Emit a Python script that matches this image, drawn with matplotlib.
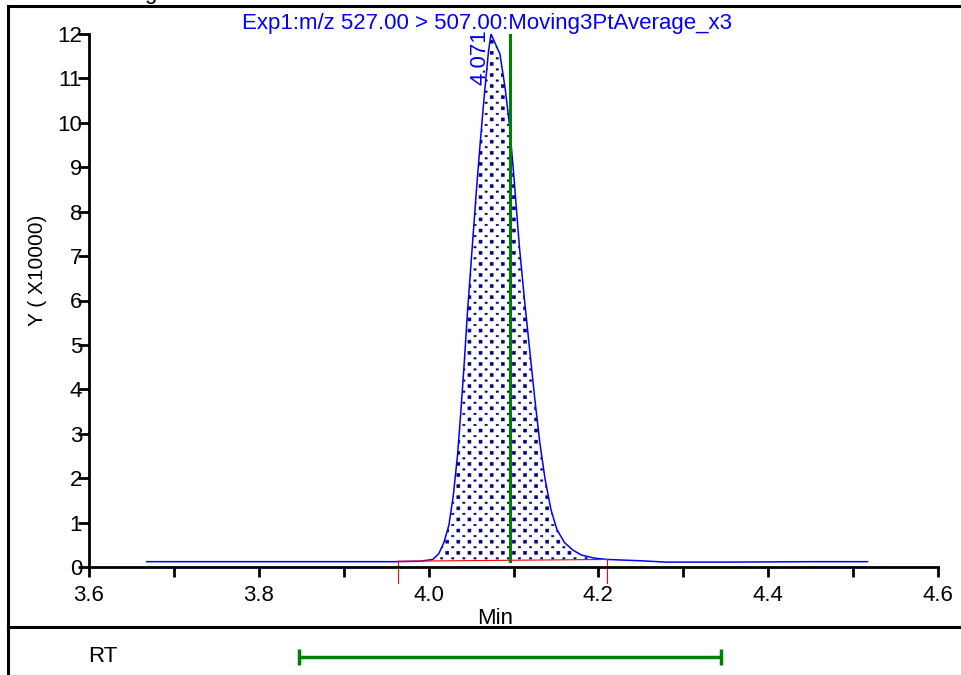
import matplotlib
matplotlib.use("Agg")
import matplotlib.pyplot as plt
import matplotlib.hatch as mhatch
from matplotlib.lines import Line2D
from matplotlib.path import Path
import numpy as np

czas = [3.668, 3.80, 3.90, 3.96, 3.99, 4.005, 4.012, 4.018, 4.024, 4.029,
        4.034, 4.038, 4.042, 4.046, 4.051, 4.056, 4.061, 4.066, 4.0705, 4.0735,
        4.084, 4.090, 4.095, 4.100, 4.107, 4.113, 4.119, 4.125, 4.131, 4.137,
        4.144, 4.151, 4.160, 4.170, 4.180, 4.195, 4.21, 4.25, 4.28, 4.35,
        4.45, 4.517]
sygnal = [0.12, 0.12, 0.12, 0.12, 0.13, 0.17, 0.30, 0.55, 0.95, 1.6,
          2.5, 3.5, 4.6, 5.8, 7.1, 8.4, 9.6, 10.7, 11.6, 12.0,
          11.55, 10.8, 10.0, 8.9, 7.2, 6.0, 4.9, 3.8, 2.8, 2.0,
          1.3, 0.85, 0.55, 0.38, 0.27, 0.20, 0.17, 0.14, 0.11, 0.11,
          0.12, 0.12]

# linia bazowa piku (start, koniec)
baza_x = [3.964, 4.210]
baza_y = [0.13, 0.17]

pik_rt = 4.071
pik_x = 4.0735
rt_oczekiwany = 4.096
okno_rt = [3.847, 4.344]

tytul = "Exp1:m/z 527.00 > 507.00:Moving3PtAverage_x3"


# wlasny wzor kropek (rzadsze kolumny, gestsze wiersze, jak w oryginale)
class KropkiHatch(mhatch.HatchPatternBase):
    kol = 9
    wier = 18

    def __init__(self, hatch, density):
        self.num_vertices = self.kol * self.wier * 5 if "." in hatch else 0

    def set_vertices_and_codes(self, vertices, codes):
        k = 0
        for j in range(self.wier):
            y = (j + 0.5) / self.wier
            if j % 2 == 0:
                w, h, przes = 0.030, 0.030, 0.25
            else:
                w, h, przes = 0.022, 0.014, 0.75
            for i in range(self.kol):
                x = (i + przes) / self.kol
                vertices[k:k + 5] = [[x - w / 2, y - h / 2], [x + w / 2, y - h / 2],
                                     [x + w / 2, y + h / 2], [x - w / 2, y + h / 2],
                                     [x - w / 2, y - h / 2]]
                codes[k:k + 5] = [Path.MOVETO, Path.LINETO, Path.LINETO,
                                  Path.LINETO, Path.CLOSEPOLY]
                k += 5


mhatch._hatch_types = [KropkiHatch if t is mhatch.SmallFilledCircles else t
                       for t in mhatch._hatch_types]

plt.rcParams["font.family"] = ["Liberation Sans", "DejaVu Sans"]
plt.rcParams["hatch.color"] = "navy"
plt.rcParams["hatch.linewidth"] = 0.4

W, H = 961, 675
fs = 16
fig = plt.figure(figsize=(W / 100, H / 100), dpi=100)

ax = fig.add_axes([89 / W, (H - 567) / H, 849 / W, 533 / H])
ax.set_xlim(3.6, 4.6)
ax.set_ylim(0, 12)

# wypelnienie piku kropkami
czas_a = np.array(czas)
syg_a = np.array(sygnal)
maska = (czas_a >= baza_x[0]) & (czas_a <= baza_x[1])
xx = np.concatenate([[baza_x[0]], czas_a[maska], [baza_x[1]]])
yy = np.interp(xx, czas_a, syg_a)
bb = np.interp(xx, baza_x, baza_y)
ax.fill_between(xx, bb, yy, facecolor="white", edgecolor="navy", hatch=".", linewidth=0)

ax.plot(czas, sygnal, color="blue", lw=1.1)

# linia bazowa z pionowymi znacznikami
ax.plot(baza_x, baza_y, color="red", lw=0.8)
ax.plot([baza_x[0], baza_x[0]], [baza_y[0], -0.37], color="red", lw=0.8, clip_on=False)
ax.plot([baza_x[1], baza_x[1]], [baza_y[1], -0.37], color="red", lw=0.8, clip_on=False)

ax.plot([rt_oczekiwany, rt_oczekiwany], [0.13, 12.0], color="green", lw=2.2)

ax.text(pik_x - 0.001, 12.1, "%.3f" % pik_rt, rotation=90, ha="right", va="top",
        color="blue", fontsize=fs)

# osie
for s in ["top", "right"]:
    ax.spines[s].set_visible(False)
ax.spines["left"].set_linewidth(2)
ax.spines["bottom"].set_linewidth(2)
ax.set_xticks(np.arange(3.6, 4.61, 0.2))
ax.set_xticklabels(["%.1f" % v for v in np.arange(3.6, 4.61, 0.2)])
ax.set_xticks(np.arange(3.7, 4.6, 0.2), minor=True)
ax.set_yticks(range(0, 13))
ax.tick_params(axis="x", which="both", direction="out", length=7, width=2, labelsize=fs, pad=6)
ax.tick_params(axis="y", direction="out", length=8, width=2, labelsize=fs, pad=-3)
ax.set_xlabel("Min", fontsize=fs)
ax.xaxis.set_label_coords(0.478, -0.077)
ax.set_ylabel("Y ( X10000)", fontsize=fs - 1)
ax.yaxis.set_label_coords(-0.050, 0.557)

fig.text(487 / W, 1 - 23 / H, tytul, color="blue", fontsize=fs, ha="center", va="center")
fig.text(150 / W, 1 + 1 / H, "g", fontsize=fs, ha="center", va="baseline")

# dolny panel z oknem RT
ax2 = fig.add_axes([89 / W, 0, 849 / W, 48 / H])
ax2.set_xlim(3.6, 4.6)
ax2.set_ylim(0, 1)
ax2.axis("off")
polowa = (okno_rt[1] - okno_rt[0]) / 2
ax2.errorbar([okno_rt[0] + polowa], [0.375], xerr=[[polowa], [polowa]],
             color="green", lw=2.5, capsize=6, capthick=2.5, fmt="none")
fig.text(103 / W, 1 - 656 / H, "RT", fontsize=fs, ha="center", va="center")

# ramka
fig.add_artist(Line2D([7.5 / W, 7.5 / W], [0, 1 - 6 / H], color="black", lw=2.2))
fig.add_artist(Line2D([7.5 / W, 1], [1 - 6 / H, 1 - 6 / H], color="black", lw=2.2))
fig.add_artist(Line2D([7.5 / W, 1], [48 / H, 48 / H], color="black", lw=2.2))

plt.savefig("out.png", dpi=100)
